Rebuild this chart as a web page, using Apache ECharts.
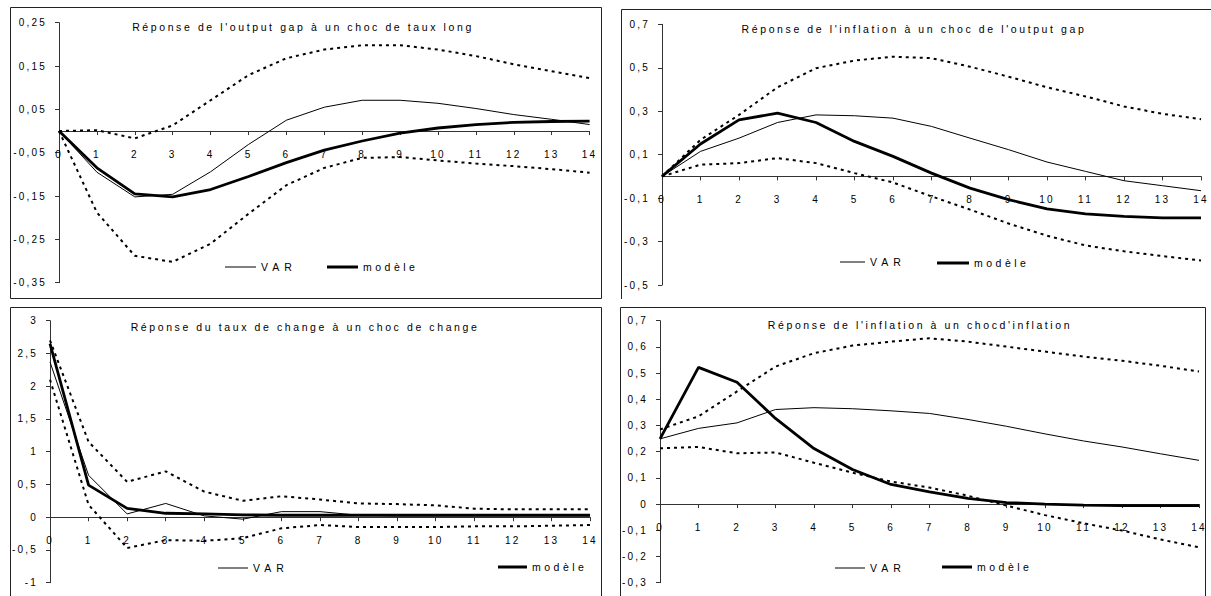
<!DOCTYPE html>
<html>
<head>
<meta charset="utf-8">
<script src="https://cdn.jsdelivr.net/npm/echarts@6/dist/echarts.min.js"></script>
<style>
html,body{margin:0;padding:0;background:#fff;}
#c{width:1211px;height:596px;}
#c text{letter-spacing:2.2px;}
</style>
</head>
<body>
<div id="c"></div>
<script>
// ---- data ----
const steps = ['0','1','2','3','4','5','6','7','8','9','10','11','12','13','14'];

const titleTL = "Réponse de l'output gap à un choc de taux long";
const titleTR = "Réponse de l'inflation à un choc de l'output gap";
const titleBL = "Réponse du taux de change à un choc de change";
const titleBR = "Réponse de l'inflation à un chocd'inflation";

const ticksTL = [-0.35, -0.25, -0.15, -0.05, 0.05, 0.15, 0.25];
const ticksTR = [-0.5, -0.3, -0.1, 0.1, 0.3, 0.5, 0.7];
const ticksBL = [-1, -0.5, 0, 0.5, 1, 1.5, 2, 2.5, 3];
const ticksBR = [-0.3, -0.2, -0.1, 0, 0.1, 0.2, 0.3, 0.4, 0.5, 0.6, 0.7];

const varTL = [0, -0.095, -0.152, -0.146, -0.094, -0.031, 0.025, 0.055, 0.071, 0.071, 0.064, 0.052, 0.038, 0.027, 0.015];
const modTL = [0, -0.085, -0.145, -0.152, -0.135, -0.105, -0.073, -0.044, -0.023, -0.005, 0.007, 0.015, 0.02, 0.022, 0.023];
const upTL  = [0, 0.002, -0.017, 0.013, 0.071, 0.129, 0.168, 0.188, 0.198, 0.198, 0.188, 0.173, 0.154, 0.138, 0.122];
const loTL  = [0, -0.188, -0.288, -0.302, -0.26, -0.191, -0.125, -0.085, -0.062, -0.06, -0.068, -0.075, -0.081, -0.088, -0.096];

const varTR = [0, 0.115, 0.176, 0.248, 0.283, 0.279, 0.268, 0.23, 0.176, 0.123, 0.066, 0.023, -0.02, -0.043, -0.066];
const modTR = [0, 0.149, 0.26, 0.291, 0.248, 0.161, 0.092, 0.015, -0.054, -0.107, -0.15, -0.173, -0.184, -0.191, -0.191];
const upTR  = [0, 0.168, 0.283, 0.41, 0.498, 0.533, 0.551, 0.544, 0.505, 0.459, 0.41, 0.368, 0.322, 0.288, 0.263];
const loTR  = [0, 0.054, 0.061, 0.084, 0.061, 0.015, -0.028, -0.092, -0.153, -0.217, -0.273, -0.318, -0.345, -0.367, -0.387];

const varBL = [2.37, 0.64, 0.05, 0.21, 0.02, -0.03, 0.085, 0.085, 0.03, 0.02, 0.02, 0.02, 0.02, 0.02, 0.02];
const modBL = [2.65, 0.49, 0.135, 0.06, 0.05, 0.035, 0.03, 0.03, 0.03, 0.03, 0.03, 0.03, 0.03, 0.03, 0.03];
const upBL  = [2.7, 1.15, 0.54, 0.70, 0.39, 0.25, 0.32, 0.27, 0.21, 0.20, 0.18, 0.13, 0.12, 0.12, 0.12];
const loBL  = [2.1, 0.19, -0.47, -0.35, -0.36, -0.32, -0.17, -0.12, -0.15, -0.15, -0.15, -0.14, -0.14, -0.13, -0.12];

const varBR = [0.249, 0.289, 0.31, 0.361, 0.368, 0.364, 0.356, 0.346, 0.323, 0.297, 0.268, 0.241, 0.218, 0.192, 0.167];
const modBR = [0.249, 0.522, 0.465, 0.327, 0.212, 0.132, 0.075, 0.047, 0.022, 0.006, 0.0, -0.004, -0.006, -0.006, -0.006];
const upBR  = [0.285, 0.335, 0.43, 0.525, 0.576, 0.605, 0.62, 0.633, 0.62, 0.601, 0.582, 0.563, 0.547, 0.528, 0.506];
const loBR  = [0.213, 0.218, 0.194, 0.197, 0.158, 0.12, 0.086, 0.063, 0.032, -0.006, -0.042, -0.073, -0.101, -0.135, -0.165];

// ---- chart ----
const FONT = "'Liberation Sans', Arial, sans-serif";
const fmt = v => String(Math.round(v * 100) / 100).replace('.', ',');

const panels = [
  {grid:{left:59, top:22.7, width:530.6, height:260}, min:-0.35, max:0.25, ticks:ticksTL,
   data:[varTL, modTL, upTL, loTL], title:titleTL, tx:303, ty:21,
   lv:{left:225, y:268, w:31}, lm:{left:327, y:268, w:31}},
  {grid:{left:662, top:24.3, width:539, height:260.7}, min:-0.5, max:0.7, ticks:ticksTR,
   data:[varTR, modTR, upTR, loTR], title:titleTR, tx:914, ty:23,
   lv:{left:840, y:263, w:25}, lm:{left:937, y:264, w:32}},
  {grid:{left:50, top:320.7, width:540, height:262}, min:-1, max:3, ticks:ticksBL,
   data:[varBL, modBL, upBL, loBL], title:titleBL, tx:305, ty:321,
   lv:{left:218, y:569, w:30}, lm:{left:498, y:568, w:29}},
  {grid:{left:660, top:320.7, width:539, height:262}, min:-0.3, max:0.7, ticks:ticksBR,
   data:[varBR, modBR, upBR, loBR], title:titleBR, tx:920, ty:319,
   lv:{left:835, y:569, w:30}, lm:{left:942, y:568, w:30}}
];

const option = {
  animation: false,
  backgroundColor: '#fff',
  color: ['#000'],
  textStyle: {fontFamily: FONT, color: '#000'},
  title: [], legend: [], grid: [], xAxis: [], yAxis: [], series: [],
  graphic: [
    {type:'rect', shape:{x:10.5, y:7.5, width:591, height:291}, style:{fill:'none', stroke:'#222', lineWidth:1}, silent:true},
    {type:'polyline', shape:{points:[[621.5,299],[621.5,9.5],[1212,9.5]]}, style:{fill:'none', stroke:'#222', lineWidth:1}, silent:true},
    {type:'polyline', shape:{points:[[10.5,597],[10.5,307.5],[601.5,307.5],[601.5,597]]}, style:{fill:'none', stroke:'#222', lineWidth:1}, silent:true},
    {type:'polyline', shape:{points:[[620.5,597],[620.5,307.5],[1205.5,307.5],[1205.5,597]]}, style:{fill:'none', stroke:'#222', lineWidth:1}, silent:true}
  ]
};

panels.forEach((p, i) => {
  option.grid.push(Object.assign({containLabel:false}, p.grid));
  option.title.push({
    text: p.title, left: p.tx, top: p.ty, textAlign: 'center', padding: 0,
    textStyle: {fontSize: 10.5, fontWeight: 'normal', color: '#000', fontFamily: FONT}
  });
  // x axis placed where y = 0 (distance above the grid bottom derived from the y range)
  const zeroOffset = -p.grid.height * (0 - p.min) / (p.max - p.min);
  option.xAxis.push({
    gridIndex: i, type: 'category', data: steps, boundaryGap: false, position: 'bottom',
    offset: zeroOffset,
    axisLine: {onZero: false, lineStyle: {color: '#333', width: 1}},
    axisTick: {show: true, length: 4, alignWithLabel: true, interval: 0, lineStyle: {color: '#333'}},
    axisLabel: {interval: 0, margin: 18, fontSize: 10, color: '#000', fontFamily: FONT},
    splitLine: {show: false}
  });
  option.yAxis.push({
    gridIndex: i, type: 'value', min: p.min, max: p.max,
    axisLine: {show: true, onZero: false, lineStyle: {color: '#333', width: 1}},
    axisTick: {show: true, length: 4, customValues: p.ticks, lineStyle: {color: '#333'}},
    axisLabel: {customValues: p.ticks, formatter: fmt, margin: 12, fontSize: 10, color: '#000', fontFamily: FONT},
    splitLine: {show: false}
  });
  const common = {type: 'line', xAxisIndex: i, yAxisIndex: i, symbol: 'none', silent: true, animation: false,
    itemStyle: {color: '#000'}};
  option.series.push(Object.assign({}, common, {name: 'borne haute', data: p.data[2], z: 2,
    lineStyle: {color: '#000', width: 2, type: [3, 4]}}));
  option.series.push(Object.assign({}, common, {name: 'borne basse', data: p.data[3], z: 2,
    lineStyle: {color: '#000', width: 2, type: [3, 4]}}));
  option.series.push(Object.assign({}, common, {name: 'VAR', data: p.data[0], z: 3,
    lineStyle: {color: '#000', width: 1}}));
  option.series.push(Object.assign({}, common, {name: 'modèle', data: p.data[1], z: 4,
    lineStyle: {color: '#000', width: 2.8}}));
  option.legend.push({
    data: ['VAR'], left: p.lv.left, top: p.lv.y - 6.5, padding: 0, icon: 'rect',
    itemWidth: p.lv.w, itemHeight: 1, itemStyle: {color: '#000', borderWidth: 0},
    selectedMode: false, textStyle: {fontSize: 10.5, color: '#000', fontFamily: FONT}
  });
  option.legend.push({
    data: ['modèle'], left: p.lm.left, top: p.lm.y - 6.5, padding: 0, icon: 'rect',
    itemWidth: p.lm.w, itemHeight: 3, itemStyle: {color: '#000', borderWidth: 0},
    selectedMode: false, textStyle: {fontSize: 10.5, color: '#000', fontFamily: FONT}
  });
});

const chart = echarts.init(document.getElementById('c'), null, {renderer: 'svg', width: 1211, height: 596});
chart.setOption(option);

function spacing() {
  document.querySelectorAll('#c text').forEach(t => {
    const s = t.textContent;
    let ls = '2.2px';
    if (s.indexOf('Réponse') === 0) ls = '2.6px';
    else if (s === 'VAR') ls = '5px';
    else if (s === 'modèle') ls = '3.5px';
    t.style.letterSpacing = ls;
  });
}
chart.on('finished', spacing);
spacing();
setTimeout(spacing, 30);
setTimeout(spacing, 200);
</script>
</body>
</html>
